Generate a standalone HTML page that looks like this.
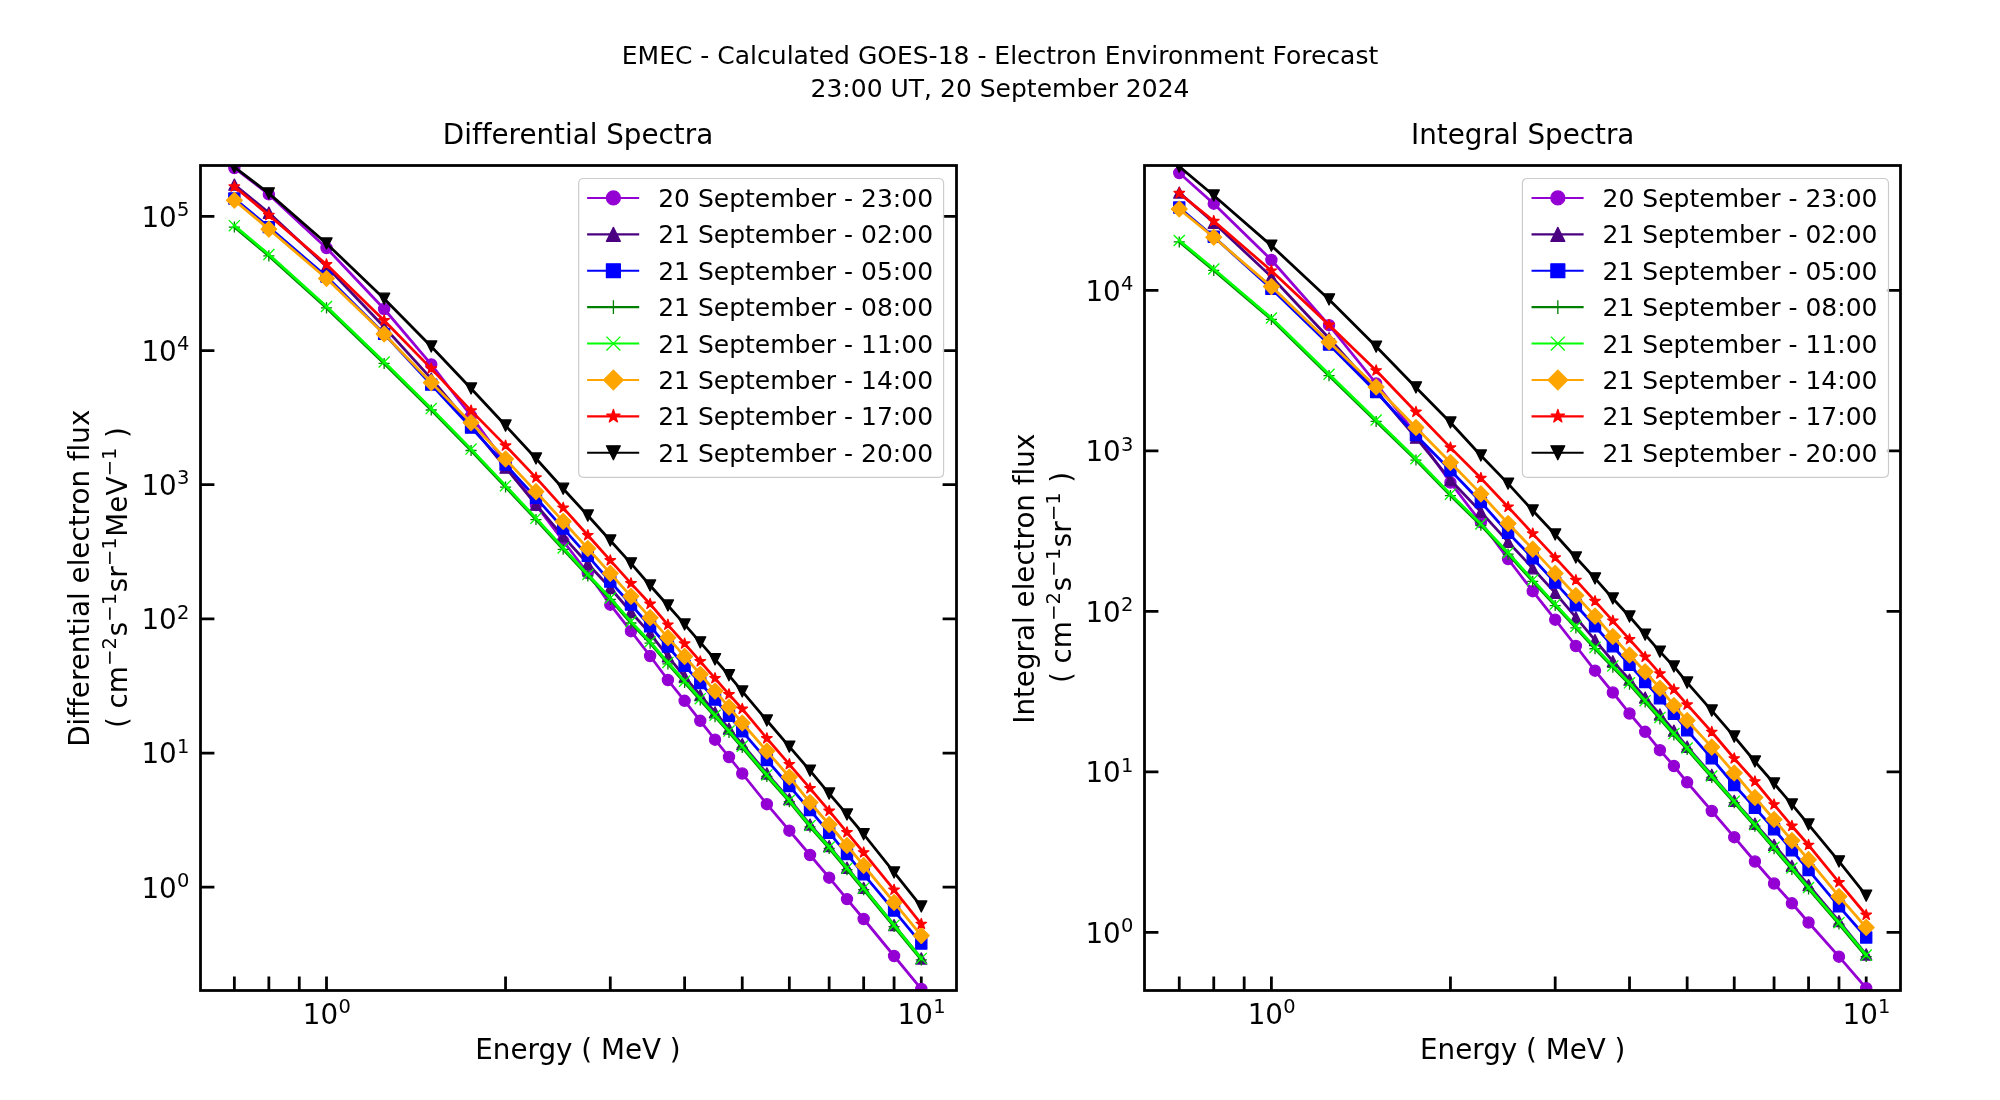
<!DOCTYPE html>
<html lang="en"><head><meta charset="utf-8"><title>EMEC - Calculated GOES-18 - Electron Environment Forecast</title>
<style>html,body{margin:0;padding:0;background:#fff}body{width:2000px;height:1100px;overflow:hidden}svg{will-change:transform}svg text{font-variant-ligatures:none;font-feature-settings:"liga" 0,"clig" 0}</style></head>
<body>
<svg width="2000" height="1100" viewBox="0 0 2000 1100" style="display:block;font-family:'DejaVu Sans','Liberation Sans',sans-serif">
<defs>
<circle id="mo" r="5.55"/>
<path id="mu" d="M0 -5.55 L-5.55 5.55 L5.55 5.55Z"/>
<path id="md" d="M0 5.55 L-5.55 -5.55 L5.55 -5.55Z"/>
<rect id="ms" x="-5.55" y="-5.55" width="11.11" height="11.11"/>
<path id="mD" d="M0 -7.86 L7.86 0 L0 7.86 L-7.86 0Z"/>
<path id="mp" d="M-5.55 0H5.55 M0 -5.55V5.55"/>
<path id="mx" d="M-5.55 -5.55L5.55 5.55 M-5.55 5.55L5.55 -5.55"/>
<path id="mst" d="M0 -5.55 L1.25 -1.72 L5.28 -1.72 L2.02 0.66 L3.27 4.49 L0 2.12 L-3.27 4.49 L-2.02 0.66 L-5.28 -1.72 L-1.25 -1.72Z"/>
<circle id="moL" r="6.95"/>
<path id="muL" d="M0 -6.95 L-6.95 6.95 L6.95 6.95Z"/>
<path id="mdL" d="M0 6.95 L-6.95 -6.95 L6.95 -6.95Z"/>
<rect id="msL" x="-6.95" y="-6.95" width="13.89" height="13.89"/>
<path id="mDL" d="M0 -9.82 L9.82 0 L0 9.82 L-9.82 0Z"/>
<path id="mpL" d="M-6.95 0H6.95 M0 -6.95V6.95"/>
<path id="mxL" d="M-6.95 -6.95L6.95 6.95 M-6.95 6.95L6.95 -6.95"/>
<path id="mstL" d="M0 -6.95 L1.56 -2.15 L6.61 -2.15 L2.52 0.82 L4.08 5.62 L0 2.65 L-4.08 5.62 L-2.52 0.82 L-6.61 -2.15 L-1.56 -2.15Z"/>
<clipPath id="c0"><rect x="200" y="165" width="756" height="825"/></clipPath>
<clipPath id="c1"><rect x="1144" y="165" width="756" height="825"/></clipPath>
</defs>
<rect width="2000" height="1100" fill="#fff"/>
<path d="M234.36 990.5v-13.9M268.86 990.5v-13.9M299.28 990.5v-13.9M326.5 990.5v-13.9M505.55 990.5v-13.9M610.29 990.5v-13.9M684.61 990.5v-13.9M742.25 990.5v-13.9M789.34 990.5v-13.9M829.16 990.5v-13.9M863.66 990.5v-13.9M894.08 990.5v-13.9M921.3 990.5v-13.9M200.5 216.4h13.9M956.5 216.4h-13.9M200.5 350.56h13.9M956.5 350.56h-13.9M200.5 484.72h13.9M956.5 484.72h-13.9M200.5 618.88h13.9M956.5 618.88h-13.9M200.5 753.04h13.9M956.5 753.04h-13.9M200.5 887.2h13.9M956.5 887.2h-13.9" stroke="#000" stroke-width="2.78" fill="none"/>
<g clip-path="url(#c0)">
<polyline points="234.36,168 268.86,194.4 326.5,248 384.14,309 431.24,364.4 471.06,416 505.55,463 535.98,505 563.19,541 587.82,573 610.29,604.7 630.97,631.2 650.11,656 667.93,680 684.61,700.8 700.27,720.8 715.03,739.7 729,757 742.25,773.5 766.87,804.2 789.34,830.7 810.02,855 829.16,877.7 846.99,899.1 863.66,919 894.08,956 921.3,989" fill="none" stroke="#9400d3" stroke-width="2.78" stroke-linejoin="round" stroke-linecap="square"/><g fill="#9400d3" stroke="#9400d3" stroke-width="1.3" stroke-linejoin="round"><use href="#mo" x="234.36" y="168"/><use href="#mo" x="268.86" y="194.4"/><use href="#mo" x="326.5" y="248"/><use href="#mo" x="384.14" y="309"/><use href="#mo" x="431.24" y="364.4"/><use href="#mo" x="471.06" y="416"/><use href="#mo" x="505.55" y="463"/><use href="#mo" x="535.98" y="505"/><use href="#mo" x="563.19" y="541"/><use href="#mo" x="587.82" y="573"/><use href="#mo" x="610.29" y="604.7"/><use href="#mo" x="630.97" y="631.2"/><use href="#mo" x="650.11" y="656"/><use href="#mo" x="667.93" y="680"/><use href="#mo" x="684.61" y="700.8"/><use href="#mo" x="700.27" y="720.8"/><use href="#mo" x="715.03" y="739.7"/><use href="#mo" x="729" y="757"/><use href="#mo" x="742.25" y="773.5"/><use href="#mo" x="766.87" y="804.2"/><use href="#mo" x="789.34" y="830.7"/><use href="#mo" x="810.02" y="855"/><use href="#mo" x="829.16" y="877.7"/><use href="#mo" x="846.99" y="899.1"/><use href="#mo" x="863.66" y="919"/><use href="#mo" x="894.08" y="956"/><use href="#mo" x="921.3" y="989"/></g>
<polyline points="234.36,184.66 268.86,212.71 326.5,266.49 384.14,327.03 431.24,378.6 471.06,425.61 505.55,467.64 535.98,504.66 563.19,536.42 587.82,563.79 610.29,587.98 630.97,611.99 650.11,633.64 667.93,656.33 684.61,676.64 700.27,695.15 715.03,712.26 729,728.55 742.25,744.12 766.87,773.46 789.34,799.09 810.02,824.51 829.16,846.17 846.99,867.68 863.66,887.9 894.08,925.15 921.3,958.46" fill="none" stroke="#4b0082" stroke-width="2.78" stroke-linejoin="round" stroke-linecap="square"/><g fill="#4b0082" stroke="#4b0082" stroke-width="1.3" stroke-linejoin="round"><use href="#mu" x="234.36" y="184.66"/><use href="#mu" x="268.86" y="212.71"/><use href="#mu" x="326.5" y="266.49"/><use href="#mu" x="384.14" y="327.03"/><use href="#mu" x="431.24" y="378.6"/><use href="#mu" x="471.06" y="425.61"/><use href="#mu" x="505.55" y="467.64"/><use href="#mu" x="535.98" y="504.66"/><use href="#mu" x="563.19" y="536.42"/><use href="#mu" x="587.82" y="563.79"/><use href="#mu" x="610.29" y="587.98"/><use href="#mu" x="630.97" y="611.99"/><use href="#mu" x="650.11" y="633.64"/><use href="#mu" x="667.93" y="656.33"/><use href="#mu" x="684.61" y="676.64"/><use href="#mu" x="700.27" y="695.15"/><use href="#mu" x="715.03" y="712.26"/><use href="#mu" x="729" y="728.55"/><use href="#mu" x="742.25" y="744.12"/><use href="#mu" x="766.87" y="773.46"/><use href="#mu" x="789.34" y="799.09"/><use href="#mu" x="810.02" y="824.51"/><use href="#mu" x="829.16" y="846.17"/><use href="#mu" x="846.99" y="867.68"/><use href="#mu" x="863.66" y="887.9"/><use href="#mu" x="894.08" y="925.15"/><use href="#mu" x="921.3" y="958.46"/></g>
<polyline points="234.36,198.46 268.86,227.11 326.5,276.49 384.14,333.83 431.24,384.6 471.06,427.61 505.55,464.64 535.98,497.76 563.19,528.42 587.82,555.83 610.29,581.58 630.97,604.45 650.11,626.33 667.93,646.54 684.61,665.84 700.27,682.93 715.03,699.52 729,715.8 742.25,731.35 766.87,760.06 789.34,785.99 810.02,810.11 829.16,832.67 846.99,854.1 863.66,874.32 894.08,910.55 921.3,943.56" fill="none" stroke="#0000ff" stroke-width="2.78" stroke-linejoin="round" stroke-linecap="square"/><g fill="#0000ff" stroke="#0000ff" stroke-width="1.3" stroke-linejoin="round"><use href="#ms" x="234.36" y="198.46"/><use href="#ms" x="268.86" y="227.11"/><use href="#ms" x="326.5" y="276.49"/><use href="#ms" x="384.14" y="333.83"/><use href="#ms" x="431.24" y="384.6"/><use href="#ms" x="471.06" y="427.61"/><use href="#ms" x="505.55" y="464.64"/><use href="#ms" x="535.98" y="497.76"/><use href="#ms" x="563.19" y="528.42"/><use href="#ms" x="587.82" y="555.83"/><use href="#ms" x="610.29" y="581.58"/><use href="#ms" x="630.97" y="604.45"/><use href="#ms" x="650.11" y="626.33"/><use href="#ms" x="667.93" y="646.54"/><use href="#ms" x="684.61" y="665.84"/><use href="#ms" x="700.27" y="682.93"/><use href="#ms" x="715.03" y="699.52"/><use href="#ms" x="729" y="715.8"/><use href="#ms" x="742.25" y="731.35"/><use href="#ms" x="766.87" y="760.06"/><use href="#ms" x="789.34" y="785.99"/><use href="#ms" x="810.02" y="810.11"/><use href="#ms" x="829.16" y="832.67"/><use href="#ms" x="846.99" y="854.1"/><use href="#ms" x="863.66" y="874.32"/><use href="#ms" x="894.08" y="910.55"/><use href="#ms" x="921.3" y="943.56"/></g>
<polyline points="234.36,227.06 268.86,255.91 326.5,307.89 384.14,363.43 431.24,410 471.06,450.51 505.55,487.04 535.98,519.56 563.19,549.32 587.82,575.89 610.29,599.38 630.97,622.99 650.11,643.14 667.93,663.93 684.61,682.54 700.27,700.05 715.03,716.66 729,732.45 742.25,747.52 766.87,776.36 789.34,801.69 810.02,826.91 829.16,848.37 846.99,869.58 863.66,889.6 894.08,926.55 921.3,959.86" fill="none" stroke="#008000" stroke-width="2.78" stroke-linejoin="round" stroke-linecap="square"/><g fill="none" stroke="#008000" stroke-width="1.3" stroke-linejoin="round"><use href="#mp" x="234.36" y="227.06"/><use href="#mp" x="268.86" y="255.91"/><use href="#mp" x="326.5" y="307.89"/><use href="#mp" x="384.14" y="363.43"/><use href="#mp" x="431.24" y="410"/><use href="#mp" x="471.06" y="450.51"/><use href="#mp" x="505.55" y="487.04"/><use href="#mp" x="535.98" y="519.56"/><use href="#mp" x="563.19" y="549.32"/><use href="#mp" x="587.82" y="575.89"/><use href="#mp" x="610.29" y="599.38"/><use href="#mp" x="630.97" y="622.99"/><use href="#mp" x="650.11" y="643.14"/><use href="#mp" x="667.93" y="663.93"/><use href="#mp" x="684.61" y="682.54"/><use href="#mp" x="700.27" y="700.05"/><use href="#mp" x="715.03" y="716.66"/><use href="#mp" x="729" y="732.45"/><use href="#mp" x="742.25" y="747.52"/><use href="#mp" x="766.87" y="776.36"/><use href="#mp" x="789.34" y="801.69"/><use href="#mp" x="810.02" y="826.91"/><use href="#mp" x="829.16" y="848.37"/><use href="#mp" x="846.99" y="869.58"/><use href="#mp" x="863.66" y="889.6"/><use href="#mp" x="894.08" y="926.55"/><use href="#mp" x="921.3" y="959.86"/></g>
<polyline points="234.36,225.66 268.86,254.51 326.5,306.49 384.14,362.03 431.24,408.6 471.06,449.11 505.55,485.64 535.98,518.16 563.19,547.92 587.82,574.49 610.29,597.98 630.97,621.59 650.11,641.74 667.93,662.53 684.61,681.14 700.27,698.65 715.03,715.26 729,731.05 742.25,746.12 766.87,774.96 789.34,800.29 810.02,825.51 829.16,846.97 846.99,868.18 863.66,888.2 894.08,925.15 921.3,958.46" fill="none" stroke="#00ff00" stroke-width="2.78" stroke-linejoin="round" stroke-linecap="square"/><g fill="none" stroke="#00ff00" stroke-width="1.3" stroke-linejoin="round"><use href="#mx" x="234.36" y="225.66"/><use href="#mx" x="268.86" y="254.51"/><use href="#mx" x="326.5" y="306.49"/><use href="#mx" x="384.14" y="362.03"/><use href="#mx" x="431.24" y="408.6"/><use href="#mx" x="471.06" y="449.11"/><use href="#mx" x="505.55" y="485.64"/><use href="#mx" x="535.98" y="518.16"/><use href="#mx" x="563.19" y="547.92"/><use href="#mx" x="587.82" y="574.49"/><use href="#mx" x="610.29" y="597.98"/><use href="#mx" x="630.97" y="621.59"/><use href="#mx" x="650.11" y="641.74"/><use href="#mx" x="667.93" y="662.53"/><use href="#mx" x="684.61" y="681.14"/><use href="#mx" x="700.27" y="698.65"/><use href="#mx" x="715.03" y="715.26"/><use href="#mx" x="729" y="731.05"/><use href="#mx" x="742.25" y="746.12"/><use href="#mx" x="766.87" y="774.96"/><use href="#mx" x="789.34" y="800.29"/><use href="#mx" x="810.02" y="825.51"/><use href="#mx" x="829.16" y="846.97"/><use href="#mx" x="846.99" y="868.18"/><use href="#mx" x="863.66" y="888.2"/><use href="#mx" x="894.08" y="925.15"/><use href="#mx" x="921.3" y="958.46"/></g>
<polyline points="234.36,200.26 268.86,229.11 326.5,278.49 384.14,334.03 431.24,382.6 471.06,422.61 505.55,459.04 535.98,491.66 563.19,521.42 587.82,548.51 610.29,573.38 630.97,596.32 650.11,617.67 667.93,637.65 684.61,656.44 700.27,674.22 715.03,691.07 729,707.11 742.25,723 766.87,751.06 789.34,776.99 810.02,802.51 829.16,824.47 846.99,845.48 863.66,865.5 894.08,902.45 921.3,935.56" fill="none" stroke="#ffa500" stroke-width="2.78" stroke-linejoin="round" stroke-linecap="square"/><g fill="#ffa500" stroke="#ffa500" stroke-width="1.3" stroke-linejoin="round"><use href="#mD" x="234.36" y="200.26"/><use href="#mD" x="268.86" y="229.11"/><use href="#mD" x="326.5" y="278.49"/><use href="#mD" x="384.14" y="334.03"/><use href="#mD" x="431.24" y="382.6"/><use href="#mD" x="471.06" y="422.61"/><use href="#mD" x="505.55" y="459.04"/><use href="#mD" x="535.98" y="491.66"/><use href="#mD" x="563.19" y="521.42"/><use href="#mD" x="587.82" y="548.51"/><use href="#mD" x="610.29" y="573.38"/><use href="#mD" x="630.97" y="596.32"/><use href="#mD" x="650.11" y="617.67"/><use href="#mD" x="667.93" y="637.65"/><use href="#mD" x="684.61" y="656.44"/><use href="#mD" x="700.27" y="674.22"/><use href="#mD" x="715.03" y="691.07"/><use href="#mD" x="729" y="707.11"/><use href="#mD" x="742.25" y="723"/><use href="#mD" x="766.87" y="751.06"/><use href="#mD" x="789.34" y="776.99"/><use href="#mD" x="810.02" y="802.51"/><use href="#mD" x="829.16" y="824.47"/><use href="#mD" x="846.99" y="845.48"/><use href="#mD" x="863.66" y="865.5"/><use href="#mD" x="894.08" y="902.45"/><use href="#mD" x="921.3" y="935.56"/></g>
<polyline points="234.36,186.66 268.86,215.11 326.5,264.49 384.14,320.43 431.24,368.6 471.06,410.61 505.55,445.64 535.98,477.66 563.19,507.92 587.82,535.27 610.29,560.38 630.97,583.37 650.11,603.97 667.93,624.8 684.61,643.64 700.27,661.44 715.03,678.31 729,694.36 742.25,708.97 766.87,738.36 789.34,764.29 810.02,788.41 829.16,810.97 846.99,832.37 863.66,852.57 894.08,889.85 921.3,924.06" fill="none" stroke="#ff0000" stroke-width="2.78" stroke-linejoin="round" stroke-linecap="square"/><g fill="#ff0000" stroke="#ff0000" stroke-width="1.3" stroke-linejoin="round"><use href="#mst" x="234.36" y="186.66"/><use href="#mst" x="268.86" y="215.11"/><use href="#mst" x="326.5" y="264.49"/><use href="#mst" x="384.14" y="320.43"/><use href="#mst" x="431.24" y="368.6"/><use href="#mst" x="471.06" y="410.61"/><use href="#mst" x="505.55" y="445.64"/><use href="#mst" x="535.98" y="477.66"/><use href="#mst" x="563.19" y="507.92"/><use href="#mst" x="587.82" y="535.27"/><use href="#mst" x="610.29" y="560.38"/><use href="#mst" x="630.97" y="583.37"/><use href="#mst" x="650.11" y="603.97"/><use href="#mst" x="667.93" y="624.8"/><use href="#mst" x="684.61" y="643.64"/><use href="#mst" x="700.27" y="661.44"/><use href="#mst" x="715.03" y="678.31"/><use href="#mst" x="729" y="694.36"/><use href="#mst" x="742.25" y="708.97"/><use href="#mst" x="766.87" y="738.36"/><use href="#mst" x="789.34" y="764.29"/><use href="#mst" x="810.02" y="788.41"/><use href="#mst" x="829.16" y="810.97"/><use href="#mst" x="846.99" y="832.37"/><use href="#mst" x="863.66" y="852.57"/><use href="#mst" x="894.08" y="889.85"/><use href="#mst" x="921.3" y="924.06"/></g>
<polyline points="234.36,167.06 268.86,193.36 326.5,243.49 384.14,298.73 431.24,346.5 471.06,388.46 505.55,425.54 535.98,458.46 563.19,488.77 587.82,515.56 610.29,540.53 630.97,563.42 650.11,585.47 667.93,605.45 684.61,624.44 700.27,642.34 715.03,659.31 729,675.26 742.25,691.47 766.87,720.51 789.34,746.59 810.02,770.6 829.16,793.57 846.99,814.44 863.66,834.25 894.08,872.45 921.3,906.46" fill="none" stroke="#000000" stroke-width="2.78" stroke-linejoin="round" stroke-linecap="square"/><g fill="#000000" stroke="#000000" stroke-width="1.3" stroke-linejoin="round"><use href="#md" x="234.36" y="167.06"/><use href="#md" x="268.86" y="193.36"/><use href="#md" x="326.5" y="243.49"/><use href="#md" x="384.14" y="298.73"/><use href="#md" x="431.24" y="346.5"/><use href="#md" x="471.06" y="388.46"/><use href="#md" x="505.55" y="425.54"/><use href="#md" x="535.98" y="458.46"/><use href="#md" x="563.19" y="488.77"/><use href="#md" x="587.82" y="515.56"/><use href="#md" x="610.29" y="540.53"/><use href="#md" x="630.97" y="563.42"/><use href="#md" x="650.11" y="585.47"/><use href="#md" x="667.93" y="605.45"/><use href="#md" x="684.61" y="624.44"/><use href="#md" x="700.27" y="642.34"/><use href="#md" x="715.03" y="659.31"/><use href="#md" x="729" y="675.26"/><use href="#md" x="742.25" y="691.47"/><use href="#md" x="766.87" y="720.51"/><use href="#md" x="789.34" y="746.59"/><use href="#md" x="810.02" y="770.6"/><use href="#md" x="829.16" y="793.57"/><use href="#md" x="846.99" y="814.44"/><use href="#md" x="863.66" y="834.25"/><use href="#md" x="894.08" y="872.45"/><use href="#md" x="921.3" y="906.46"/></g>
</g>
<rect x="200.5" y="165.5" width="756" height="825" fill="none" stroke="#000" stroke-width="2.78"/>
<text x="302.8" y="1023.5" font-size="27.78">10<tspan x="338.41" y="1012.87" font-size="19.44">0</tspan></text>
<text x="897.6" y="1023.5" font-size="27.78">10<tspan x="933.21" y="1012.87" font-size="19.44">1</tspan></text>
<text x="141.4" y="226.8" font-size="27.78">10<tspan x="177.01" y="216.17" font-size="19.44">5</tspan></text>
<text x="141.4" y="360.96" font-size="27.78">10<tspan x="177.01" y="350.33" font-size="19.44">4</tspan></text>
<text x="141.4" y="495.12" font-size="27.78">10<tspan x="177.01" y="484.49" font-size="19.44">3</tspan></text>
<text x="141.4" y="629.28" font-size="27.78">10<tspan x="177.01" y="618.65" font-size="19.44">2</tspan></text>
<text x="141.4" y="763.44" font-size="27.78">10<tspan x="177.01" y="752.81" font-size="19.44">1</tspan></text>
<text x="141.4" y="897.6" font-size="27.78">10<tspan x="177.01" y="886.97" font-size="19.44">0</tspan></text>
<text x="578" y="1059" font-size="27.78" text-anchor="middle">Energy ( MeV )</text>
<text x="578" y="144" font-size="27.78" text-anchor="middle">Differential Spectra</text>
<path d="M1179.26 990.5v-13.9M1213.76 990.5v-13.9M1244.18 990.5v-13.9M1271.4 990.5v-13.9M1450.45 990.5v-13.9M1555.19 990.5v-13.9M1629.51 990.5v-13.9M1687.15 990.5v-13.9M1734.24 990.5v-13.9M1774.06 990.5v-13.9M1808.56 990.5v-13.9M1838.98 990.5v-13.9M1866.2 990.5v-13.9M1144.5 290.4h13.9M1900.5 290.4h-13.9M1144.5 450.9h13.9M1900.5 450.9h-13.9M1144.5 611.4h13.9M1900.5 611.4h-13.9M1144.5 771.9h13.9M1900.5 771.9h-13.9M1144.5 932.4h13.9M1900.5 932.4h-13.9" stroke="#000" stroke-width="2.78" fill="none"/>
<g clip-path="url(#c1)">
<polyline points="1179.26,173 1213.76,203.7 1271.4,260 1329.04,325.2 1376.14,383.5 1415.96,434 1450.45,482.5 1480.88,522.2 1508.09,559 1532.72,591.2 1555.19,619.7 1575.87,646 1595.01,670.7 1612.83,692.5 1629.51,713.5 1645.17,731.8 1659.93,750.2 1673.9,766 1687.15,782.3 1711.77,811 1734.24,837.2 1754.92,861.5 1774.06,883.5 1791.89,903.3 1808.56,922.5 1838.98,956.7 1866.2,988.2" fill="none" stroke="#9400d3" stroke-width="2.78" stroke-linejoin="round" stroke-linecap="square"/><g fill="#9400d3" stroke="#9400d3" stroke-width="1.3" stroke-linejoin="round"><use href="#mo" x="1179.26" y="173"/><use href="#mo" x="1213.76" y="203.7"/><use href="#mo" x="1271.4" y="260"/><use href="#mo" x="1329.04" y="325.2"/><use href="#mo" x="1376.14" y="383.5"/><use href="#mo" x="1415.96" y="434"/><use href="#mo" x="1450.45" y="482.5"/><use href="#mo" x="1480.88" y="522.2"/><use href="#mo" x="1508.09" y="559"/><use href="#mo" x="1532.72" y="591.2"/><use href="#mo" x="1555.19" y="619.7"/><use href="#mo" x="1575.87" y="646"/><use href="#mo" x="1595.01" y="670.7"/><use href="#mo" x="1612.83" y="692.5"/><use href="#mo" x="1629.51" y="713.5"/><use href="#mo" x="1645.17" y="731.8"/><use href="#mo" x="1659.93" y="750.2"/><use href="#mo" x="1673.9" y="766"/><use href="#mo" x="1687.15" y="782.3"/><use href="#mo" x="1711.77" y="811"/><use href="#mo" x="1734.24" y="837.2"/><use href="#mo" x="1754.92" y="861.5"/><use href="#mo" x="1774.06" y="883.5"/><use href="#mo" x="1791.89" y="903.3"/><use href="#mo" x="1808.56" y="922.5"/><use href="#mo" x="1838.98" y="956.7"/><use href="#mo" x="1866.2" y="988.2"/></g>
<polyline points="1179.26,192.53 1213.76,222.78 1271.4,276.77 1329.04,338.26 1376.14,391.04 1415.96,437.66 1450.45,479.93 1480.88,511.88 1508.09,541.84 1532.72,568.3 1555.19,592.86 1575.87,617.44 1595.01,640.17 1612.83,661.24 1629.51,679.65 1645.17,697.57 1659.93,714.48 1673.9,730.67 1687.15,746.71 1711.77,774.8 1734.24,800.8 1754.92,823.68 1774.06,844.87 1791.89,865.82 1808.56,885.13 1838.98,921.15 1866.2,954.43" fill="none" stroke="#4b0082" stroke-width="2.78" stroke-linejoin="round" stroke-linecap="square"/><g fill="#4b0082" stroke="#4b0082" stroke-width="1.3" stroke-linejoin="round"><use href="#mu" x="1179.26" y="192.53"/><use href="#mu" x="1213.76" y="222.78"/><use href="#mu" x="1271.4" y="276.77"/><use href="#mu" x="1329.04" y="338.26"/><use href="#mu" x="1376.14" y="391.04"/><use href="#mu" x="1415.96" y="437.66"/><use href="#mu" x="1450.45" y="479.93"/><use href="#mu" x="1480.88" y="511.88"/><use href="#mu" x="1508.09" y="541.84"/><use href="#mu" x="1532.72" y="568.3"/><use href="#mu" x="1555.19" y="592.86"/><use href="#mu" x="1575.87" y="617.44"/><use href="#mu" x="1595.01" y="640.17"/><use href="#mu" x="1612.83" y="661.24"/><use href="#mu" x="1629.51" y="679.65"/><use href="#mu" x="1645.17" y="697.57"/><use href="#mu" x="1659.93" y="714.48"/><use href="#mu" x="1673.9" y="730.67"/><use href="#mu" x="1687.15" y="746.71"/><use href="#mu" x="1711.77" y="774.8"/><use href="#mu" x="1734.24" y="800.8"/><use href="#mu" x="1754.92" y="823.68"/><use href="#mu" x="1774.06" y="844.87"/><use href="#mu" x="1791.89" y="865.82"/><use href="#mu" x="1808.56" y="885.13"/><use href="#mu" x="1838.98" y="921.15"/><use href="#mu" x="1866.2" y="954.43"/></g>
<polyline points="1179.26,207.53 1213.76,236.78 1271.4,288.77 1329.04,344.56 1376.14,392.04 1415.96,435.16 1450.45,470.33 1480.88,502.08 1508.09,532.84 1532.72,558.3 1555.19,582.66 1575.87,605.26 1595.01,626.27 1612.83,646.27 1629.51,664.85 1645.17,682.02 1659.93,698.33 1673.9,713.77 1687.15,730.31 1711.77,758.36 1734.24,785 1754.92,807.88 1774.06,829.27 1791.89,850.32 1808.56,870.13 1838.98,906.35 1866.2,937.43" fill="none" stroke="#0000ff" stroke-width="2.78" stroke-linejoin="round" stroke-linecap="square"/><g fill="#0000ff" stroke="#0000ff" stroke-width="1.3" stroke-linejoin="round"><use href="#ms" x="1179.26" y="207.53"/><use href="#ms" x="1213.76" y="236.78"/><use href="#ms" x="1271.4" y="288.77"/><use href="#ms" x="1329.04" y="344.56"/><use href="#ms" x="1376.14" y="392.04"/><use href="#ms" x="1415.96" y="435.16"/><use href="#ms" x="1450.45" y="470.33"/><use href="#ms" x="1480.88" y="502.08"/><use href="#ms" x="1508.09" y="532.84"/><use href="#ms" x="1532.72" y="558.3"/><use href="#ms" x="1555.19" y="582.66"/><use href="#ms" x="1575.87" y="605.26"/><use href="#ms" x="1595.01" y="626.27"/><use href="#ms" x="1612.83" y="646.27"/><use href="#ms" x="1629.51" y="664.85"/><use href="#ms" x="1645.17" y="682.02"/><use href="#ms" x="1659.93" y="698.33"/><use href="#ms" x="1673.9" y="713.77"/><use href="#ms" x="1687.15" y="730.31"/><use href="#ms" x="1711.77" y="758.36"/><use href="#ms" x="1734.24" y="785"/><use href="#ms" x="1754.92" y="807.88"/><use href="#ms" x="1774.06" y="829.27"/><use href="#ms" x="1791.89" y="850.32"/><use href="#ms" x="1808.56" y="870.13"/><use href="#ms" x="1838.98" y="906.35"/><use href="#ms" x="1866.2" y="937.43"/></g>
<polyline points="1179.26,241.93 1213.76,270.38 1271.4,319.47 1329.04,375.66 1376.14,421.44 1415.96,460.06 1450.45,495.53 1480.88,525.28 1508.09,554.14 1532.72,581.3 1555.19,605.56 1575.87,627.87 1595.01,648.77 1612.83,667.29 1629.51,684.25 1645.17,702.05 1659.93,718.85 1673.9,734.94 1687.15,749.41 1711.77,777.4 1734.24,802.7 1754.92,826.17 1774.06,848.67 1791.89,869.42 1808.56,888.93 1838.98,924.05 1866.2,956.53" fill="none" stroke="#008000" stroke-width="2.78" stroke-linejoin="round" stroke-linecap="square"/><g fill="none" stroke="#008000" stroke-width="1.3" stroke-linejoin="round"><use href="#mp" x="1179.26" y="241.93"/><use href="#mp" x="1213.76" y="270.38"/><use href="#mp" x="1271.4" y="319.47"/><use href="#mp" x="1329.04" y="375.66"/><use href="#mp" x="1376.14" y="421.44"/><use href="#mp" x="1415.96" y="460.06"/><use href="#mp" x="1450.45" y="495.53"/><use href="#mp" x="1480.88" y="525.28"/><use href="#mp" x="1508.09" y="554.14"/><use href="#mp" x="1532.72" y="581.3"/><use href="#mp" x="1555.19" y="605.56"/><use href="#mp" x="1575.87" y="627.87"/><use href="#mp" x="1595.01" y="648.77"/><use href="#mp" x="1612.83" y="667.29"/><use href="#mp" x="1629.51" y="684.25"/><use href="#mp" x="1645.17" y="702.05"/><use href="#mp" x="1659.93" y="718.85"/><use href="#mp" x="1673.9" y="734.94"/><use href="#mp" x="1687.15" y="749.41"/><use href="#mp" x="1711.77" y="777.4"/><use href="#mp" x="1734.24" y="802.7"/><use href="#mp" x="1754.92" y="826.17"/><use href="#mp" x="1774.06" y="848.67"/><use href="#mp" x="1791.89" y="869.42"/><use href="#mp" x="1808.56" y="888.93"/><use href="#mp" x="1838.98" y="924.05"/><use href="#mp" x="1866.2" y="956.53"/></g>
<polyline points="1179.26,240.53 1213.76,268.98 1271.4,318.07 1329.04,374.26 1376.14,420.04 1415.96,458.66 1450.45,494.13 1480.88,523.88 1508.09,552.74 1532.72,579.9 1555.19,604.16 1575.87,626.47 1595.01,647.37 1612.83,665.89 1629.51,682.85 1645.17,700.65 1659.93,717.45 1673.9,733.54 1687.15,748.01 1711.77,776 1734.24,801.3 1754.92,824.77 1774.06,847.27 1791.89,868.02 1808.56,887.53 1838.98,922.65 1866.2,955.13" fill="none" stroke="#00ff00" stroke-width="2.78" stroke-linejoin="round" stroke-linecap="square"/><g fill="none" stroke="#00ff00" stroke-width="1.3" stroke-linejoin="round"><use href="#mx" x="1179.26" y="240.53"/><use href="#mx" x="1213.76" y="268.98"/><use href="#mx" x="1271.4" y="318.07"/><use href="#mx" x="1329.04" y="374.26"/><use href="#mx" x="1376.14" y="420.04"/><use href="#mx" x="1415.96" y="458.66"/><use href="#mx" x="1450.45" y="494.13"/><use href="#mx" x="1480.88" y="523.88"/><use href="#mx" x="1508.09" y="552.74"/><use href="#mx" x="1532.72" y="579.9"/><use href="#mx" x="1555.19" y="604.16"/><use href="#mx" x="1575.87" y="626.47"/><use href="#mx" x="1595.01" y="647.37"/><use href="#mx" x="1612.83" y="665.89"/><use href="#mx" x="1629.51" y="682.85"/><use href="#mx" x="1645.17" y="700.65"/><use href="#mx" x="1659.93" y="717.45"/><use href="#mx" x="1673.9" y="733.54"/><use href="#mx" x="1687.15" y="748.01"/><use href="#mx" x="1711.77" y="776"/><use href="#mx" x="1734.24" y="801.3"/><use href="#mx" x="1754.92" y="824.77"/><use href="#mx" x="1774.06" y="847.27"/><use href="#mx" x="1791.89" y="868.02"/><use href="#mx" x="1808.56" y="887.53"/><use href="#mx" x="1838.98" y="922.65"/><use href="#mx" x="1866.2" y="955.13"/></g>
<polyline points="1179.26,209.03 1213.76,237.28 1271.4,286.57 1329.04,341.96 1376.14,387.04 1415.96,427.46 1450.45,462.53 1480.88,493.88 1508.09,523.54 1532.72,549.1 1555.19,573.36 1575.87,595.5 1595.01,616.17 1612.83,636.52 1629.51,654.95 1645.17,671.74 1659.93,688.26 1673.9,705.49 1687.15,720.51 1711.77,747.08 1734.24,773 1754.92,797.46 1774.06,819.47 1791.89,840.52 1808.56,859.63 1838.98,896.45 1866.2,927.43" fill="none" stroke="#ffa500" stroke-width="2.78" stroke-linejoin="round" stroke-linecap="square"/><g fill="#ffa500" stroke="#ffa500" stroke-width="1.3" stroke-linejoin="round"><use href="#mD" x="1179.26" y="209.03"/><use href="#mD" x="1213.76" y="237.28"/><use href="#mD" x="1271.4" y="286.57"/><use href="#mD" x="1329.04" y="341.96"/><use href="#mD" x="1376.14" y="387.04"/><use href="#mD" x="1415.96" y="427.46"/><use href="#mD" x="1450.45" y="462.53"/><use href="#mD" x="1480.88" y="493.88"/><use href="#mD" x="1508.09" y="523.54"/><use href="#mD" x="1532.72" y="549.1"/><use href="#mD" x="1555.19" y="573.36"/><use href="#mD" x="1575.87" y="595.5"/><use href="#mD" x="1595.01" y="616.17"/><use href="#mD" x="1612.83" y="636.52"/><use href="#mD" x="1629.51" y="654.95"/><use href="#mD" x="1645.17" y="671.74"/><use href="#mD" x="1659.93" y="688.26"/><use href="#mD" x="1673.9" y="705.49"/><use href="#mD" x="1687.15" y="720.51"/><use href="#mD" x="1711.77" y="747.08"/><use href="#mD" x="1734.24" y="773"/><use href="#mD" x="1754.92" y="797.46"/><use href="#mD" x="1774.06" y="819.47"/><use href="#mD" x="1791.89" y="840.52"/><use href="#mD" x="1808.56" y="859.63"/><use href="#mD" x="1838.98" y="896.45"/><use href="#mD" x="1866.2" y="927.43"/></g>
<polyline points="1179.26,193.23 1213.76,221.08 1271.4,270.77 1329.04,324.96 1376.14,370.54 1415.96,411.96 1450.45,447.63 1480.88,478.08 1508.09,506.94 1532.72,533.6 1555.19,557.66 1575.87,580.16 1595.01,601.17 1612.83,620.82 1629.51,639.35 1645.17,656.93 1659.93,673.63 1673.9,689.53 1687.15,704.71 1711.77,732 1734.24,758.5 1754.92,781.5 1774.06,804.57 1791.89,825.98 1808.56,845.03 1838.98,882.35 1866.2,914.93" fill="none" stroke="#ff0000" stroke-width="2.78" stroke-linejoin="round" stroke-linecap="square"/><g fill="#ff0000" stroke="#ff0000" stroke-width="1.3" stroke-linejoin="round"><use href="#mst" x="1179.26" y="193.23"/><use href="#mst" x="1213.76" y="221.08"/><use href="#mst" x="1271.4" y="270.77"/><use href="#mst" x="1329.04" y="324.96"/><use href="#mst" x="1376.14" y="370.54"/><use href="#mst" x="1415.96" y="411.96"/><use href="#mst" x="1450.45" y="447.63"/><use href="#mst" x="1480.88" y="478.08"/><use href="#mst" x="1508.09" y="506.94"/><use href="#mst" x="1532.72" y="533.6"/><use href="#mst" x="1555.19" y="557.66"/><use href="#mst" x="1575.87" y="580.16"/><use href="#mst" x="1595.01" y="601.17"/><use href="#mst" x="1612.83" y="620.82"/><use href="#mst" x="1629.51" y="639.35"/><use href="#mst" x="1645.17" y="656.93"/><use href="#mst" x="1659.93" y="673.63"/><use href="#mst" x="1673.9" y="689.53"/><use href="#mst" x="1687.15" y="704.71"/><use href="#mst" x="1711.77" y="732"/><use href="#mst" x="1734.24" y="758.5"/><use href="#mst" x="1754.92" y="781.5"/><use href="#mst" x="1774.06" y="804.57"/><use href="#mst" x="1791.89" y="825.98"/><use href="#mst" x="1808.56" y="845.03"/><use href="#mst" x="1838.98" y="882.35"/><use href="#mst" x="1866.2" y="914.93"/></g>
<polyline points="1179.26,166.63 1213.76,195.48 1271.4,245.62 1329.04,299.41 1376.14,346.59 1415.96,387.41 1450.45,422.48 1480.88,455.53 1508.09,483.64 1532.72,510.55 1555.19,534.51 1575.87,557.51 1595.01,578.42 1612.83,598.47 1629.51,616.5 1645.17,634.58 1659.93,651.58 1673.9,666.48 1687.15,682.56 1711.77,710.55 1734.24,736.55 1754.92,761.49 1774.06,783.52 1791.89,804.43 1808.56,824.53 1838.98,861.4 1866.2,895.58" fill="none" stroke="#000000" stroke-width="2.78" stroke-linejoin="round" stroke-linecap="square"/><g fill="#000000" stroke="#000000" stroke-width="1.3" stroke-linejoin="round"><use href="#md" x="1179.26" y="166.63"/><use href="#md" x="1213.76" y="195.48"/><use href="#md" x="1271.4" y="245.62"/><use href="#md" x="1329.04" y="299.41"/><use href="#md" x="1376.14" y="346.59"/><use href="#md" x="1415.96" y="387.41"/><use href="#md" x="1450.45" y="422.48"/><use href="#md" x="1480.88" y="455.53"/><use href="#md" x="1508.09" y="483.64"/><use href="#md" x="1532.72" y="510.55"/><use href="#md" x="1555.19" y="534.51"/><use href="#md" x="1575.87" y="557.51"/><use href="#md" x="1595.01" y="578.42"/><use href="#md" x="1612.83" y="598.47"/><use href="#md" x="1629.51" y="616.5"/><use href="#md" x="1645.17" y="634.58"/><use href="#md" x="1659.93" y="651.58"/><use href="#md" x="1673.9" y="666.48"/><use href="#md" x="1687.15" y="682.56"/><use href="#md" x="1711.77" y="710.55"/><use href="#md" x="1734.24" y="736.55"/><use href="#md" x="1754.92" y="761.49"/><use href="#md" x="1774.06" y="783.52"/><use href="#md" x="1791.89" y="804.43"/><use href="#md" x="1808.56" y="824.53"/><use href="#md" x="1838.98" y="861.4"/><use href="#md" x="1866.2" y="895.58"/></g>
</g>
<rect x="1144.5" y="165.5" width="756" height="825" fill="none" stroke="#000" stroke-width="2.78"/>
<text x="1247.7" y="1023.5" font-size="27.78">10<tspan x="1283.31" y="1012.87" font-size="19.44">0</tspan></text>
<text x="1842.5" y="1023.5" font-size="27.78">10<tspan x="1878.11" y="1012.87" font-size="19.44">1</tspan></text>
<text x="1085.4" y="300.8" font-size="27.78">10<tspan x="1121.01" y="290.17" font-size="19.44">4</tspan></text>
<text x="1085.4" y="461.3" font-size="27.78">10<tspan x="1121.01" y="450.67" font-size="19.44">3</tspan></text>
<text x="1085.4" y="621.8" font-size="27.78">10<tspan x="1121.01" y="611.17" font-size="19.44">2</tspan></text>
<text x="1085.4" y="782.3" font-size="27.78">10<tspan x="1121.01" y="771.67" font-size="19.44">1</tspan></text>
<text x="1085.4" y="942.8" font-size="27.78">10<tspan x="1121.01" y="932.17" font-size="19.44">0</tspan></text>
<text x="1522.7" y="1059" font-size="27.78" text-anchor="middle">Energy ( MeV )</text>
<text x="1522.7" y="144" font-size="27.78" text-anchor="middle">Integral Spectra</text>
<text transform="translate(89 746.8) rotate(-90)" font-size="27.78">Differential electron flux</text>
<text transform="translate(127 728.06) rotate(-90)" font-size="27.78"><tspan x="0" y="0">( cm</tspan><tspan x="62.26" y="-10.63" font-size="19.44">−2</tspan><tspan x="91.69" y="0">s</tspan><tspan x="106.42" y="-10.63" font-size="19.44">−1</tspan><tspan x="135.85" y="0">sr</tspan><tspan x="162.01" y="-10.63" font-size="19.44">−1</tspan><tspan x="191.43" y="0">MeV</tspan><tspan x="251.75" y="-10.63" font-size="19.44">−1</tspan><tspan x="290.01" y="0">)</tspan></text>
<text transform="translate(1033.5 723.8) rotate(-90)" font-size="27.78">Integral electron flux</text>
<text transform="translate(1070.5 683.06) rotate(-90)" font-size="27.78"><tspan x="0" y="0">( cm</tspan><tspan x="62.26" y="-10.63" font-size="19.44">−2</tspan><tspan x="91.69" y="0">s</tspan><tspan x="106.42" y="-10.63" font-size="19.44">−1</tspan><tspan x="135.85" y="0">sr</tspan><tspan x="162.01" y="-10.63" font-size="19.44">−1</tspan><tspan x="200.26" y="0">)</tspan></text>
<text x="1000" y="64.2" font-size="25" text-anchor="middle">EMEC - Calculated GOES-18 - Electron Environment Forecast</text>
<text x="1000" y="97" font-size="25" text-anchor="middle">23:00 UT, 20 September 2024</text>
<path d="M583.7 178.5H938.6Q943.6 178.5 943.6 183.5V472.3Q943.6 477.3 938.6 477.3H583.7Q578.7 477.3 578.7 472.3V183.5Q578.7 178.5 583.7 178.5Z" fill="#fff" fill-opacity="0.8" stroke="#ccc" stroke-width="1.2"/>
<path d="M588.15 197.95H638.15" stroke="#9400d3" stroke-width="2.08" stroke-linecap="square"/>
<use href="#moL" x="613.4" y="197.95" fill="#9400d3" stroke="#9400d3" stroke-width="1.3" stroke-linejoin="round"/>
<text x="658.15" y="206.9" font-size="25">20 September - 23:00</text>
<path d="M588.15 234.35H638.15" stroke="#4b0082" stroke-width="2.08" stroke-linecap="square"/>
<use href="#muL" x="613.4" y="234.35" fill="#4b0082" stroke="#4b0082" stroke-width="1.3" stroke-linejoin="round"/>
<text x="658.15" y="243.3" font-size="25">21 September - 02:00</text>
<path d="M588.15 270.75H638.15" stroke="#0000ff" stroke-width="2.08" stroke-linecap="square"/>
<use href="#msL" x="613.4" y="270.75" fill="#0000ff" stroke="#0000ff" stroke-width="1.3" stroke-linejoin="round"/>
<text x="658.15" y="279.7" font-size="25">21 September - 05:00</text>
<path d="M588.15 307.15H638.15" stroke="#008000" stroke-width="2.08" stroke-linecap="square"/>
<use href="#mpL" x="613.4" y="307.15" fill="none" stroke="#008000" stroke-width="1.3" stroke-linejoin="round"/>
<text x="658.15" y="316.1" font-size="25">21 September - 08:00</text>
<path d="M588.15 343.55H638.15" stroke="#00ff00" stroke-width="2.08" stroke-linecap="square"/>
<use href="#mxL" x="613.4" y="343.55" fill="none" stroke="#00ff00" stroke-width="1.3" stroke-linejoin="round"/>
<text x="658.15" y="352.5" font-size="25">21 September - 11:00</text>
<path d="M588.15 379.95H638.15" stroke="#ffa500" stroke-width="2.08" stroke-linecap="square"/>
<use href="#mDL" x="613.4" y="379.95" fill="#ffa500" stroke="#ffa500" stroke-width="1.3" stroke-linejoin="round"/>
<text x="658.15" y="388.9" font-size="25">21 September - 14:00</text>
<path d="M588.15 416.35H638.15" stroke="#ff0000" stroke-width="2.08" stroke-linecap="square"/>
<use href="#mstL" x="613.4" y="416.35" fill="#ff0000" stroke="#ff0000" stroke-width="1.3" stroke-linejoin="round"/>
<text x="658.15" y="425.3" font-size="25">21 September - 17:00</text>
<path d="M588.15 452.75H638.15" stroke="#000000" stroke-width="2.08" stroke-linecap="square"/>
<use href="#mdL" x="613.4" y="452.75" fill="#000000" stroke="#000000" stroke-width="1.3" stroke-linejoin="round"/>
<text x="658.15" y="461.7" font-size="25">21 September - 20:00</text>
<path d="M1527.4 178.5H1883.5Q1888.5 178.5 1888.5 183.5V472.3Q1888.5 477.3 1883.5 477.3H1527.4Q1522.4 477.3 1522.4 472.3V183.5Q1522.4 178.5 1527.4 178.5Z" fill="#fff" fill-opacity="0.8" stroke="#ccc" stroke-width="1.2"/>
<path d="M1532.59 197.95H1582.59" stroke="#9400d3" stroke-width="2.08" stroke-linecap="square"/>
<use href="#moL" x="1557.84" y="197.95" fill="#9400d3" stroke="#9400d3" stroke-width="1.3" stroke-linejoin="round"/>
<text x="1602.59" y="206.9" font-size="25">20 September - 23:00</text>
<path d="M1532.59 234.35H1582.59" stroke="#4b0082" stroke-width="2.08" stroke-linecap="square"/>
<use href="#muL" x="1557.84" y="234.35" fill="#4b0082" stroke="#4b0082" stroke-width="1.3" stroke-linejoin="round"/>
<text x="1602.59" y="243.3" font-size="25">21 September - 02:00</text>
<path d="M1532.59 270.75H1582.59" stroke="#0000ff" stroke-width="2.08" stroke-linecap="square"/>
<use href="#msL" x="1557.84" y="270.75" fill="#0000ff" stroke="#0000ff" stroke-width="1.3" stroke-linejoin="round"/>
<text x="1602.59" y="279.7" font-size="25">21 September - 05:00</text>
<path d="M1532.59 307.15H1582.59" stroke="#008000" stroke-width="2.08" stroke-linecap="square"/>
<use href="#mpL" x="1557.84" y="307.15" fill="none" stroke="#008000" stroke-width="1.3" stroke-linejoin="round"/>
<text x="1602.59" y="316.1" font-size="25">21 September - 08:00</text>
<path d="M1532.59 343.55H1582.59" stroke="#00ff00" stroke-width="2.08" stroke-linecap="square"/>
<use href="#mxL" x="1557.84" y="343.55" fill="none" stroke="#00ff00" stroke-width="1.3" stroke-linejoin="round"/>
<text x="1602.59" y="352.5" font-size="25">21 September - 11:00</text>
<path d="M1532.59 379.95H1582.59" stroke="#ffa500" stroke-width="2.08" stroke-linecap="square"/>
<use href="#mDL" x="1557.84" y="379.95" fill="#ffa500" stroke="#ffa500" stroke-width="1.3" stroke-linejoin="round"/>
<text x="1602.59" y="388.9" font-size="25">21 September - 14:00</text>
<path d="M1532.59 416.35H1582.59" stroke="#ff0000" stroke-width="2.08" stroke-linecap="square"/>
<use href="#mstL" x="1557.84" y="416.35" fill="#ff0000" stroke="#ff0000" stroke-width="1.3" stroke-linejoin="round"/>
<text x="1602.59" y="425.3" font-size="25">21 September - 17:00</text>
<path d="M1532.59 452.75H1582.59" stroke="#000000" stroke-width="2.08" stroke-linecap="square"/>
<use href="#mdL" x="1557.84" y="452.75" fill="#000000" stroke="#000000" stroke-width="1.3" stroke-linejoin="round"/>
<text x="1602.59" y="461.7" font-size="25">21 September - 20:00</text>
</svg>
</body></html>
